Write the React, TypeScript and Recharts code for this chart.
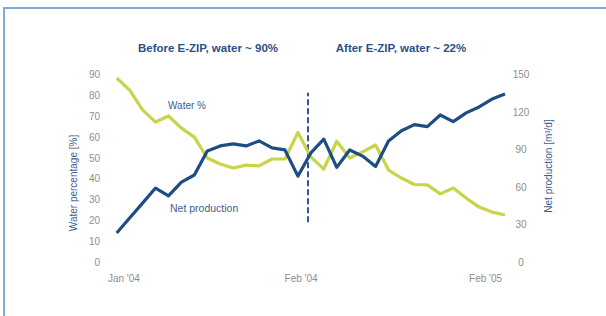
import { LineChart, Line, XAxis, YAxis, ReferenceLine } from 'recharts'

// one point per sample, Jan '04 .. Feb '05
const waterPct = [
  88.1, 82.3, 72.8, 67.0, 69.9, 64.1, 59.8, 49.8, 46.9, 45.0, 46.4, 46.0, 49.3, 49.3, 62.0, 50.3,
  44.5, 57.8, 49.8, 52.7, 56.0, 44.0, 40.2, 37.1, 36.9, 32.6, 35.4, 30.6, 26.3, 23.9, 22.5
]
const netProduction = [
  23.1, 35.1, 47.0, 59.0, 52.7, 63.8, 69.4, 88.6, 92.6, 94.2, 92.6, 96.6, 91.0, 89.4, 68.5, 87.0,
  98.0, 75.5, 89.4, 84.5, 76.2, 96.5, 104.7, 109.6, 108.0, 117.3, 112.0, 119.0, 123.7, 130.0, 134.0
]

const xTicks = [0.56, 14.25, 28.5]
const xLabels = ["Jan '04", "Feb '04", "Feb '05"]
const waterTicks = [0, 10, 20, 30, 40, 50, 60, 70, 80, 90]
const prodTicks = [0, 30, 60, 90, 120, 150]

// E-ZIP start marker (x in sample units, y in water %)
const ezipAt = 14.78
const ezipSpan = [19, 81]

const data = waterPct.map((w, i) => ({ idx: i, water: w, prod: netProduction[i] }))

const FONT = '"Liberation Sans", Arial, sans-serif'
const GREY = '#8e8e8e'
const NAVY = '#2c4f87'

const XTick = (p: any) => {
  const i = xTicks.indexOf(p.payload.value)
  return (
    <text x={p.x} y={282} textAnchor="middle" fontSize={10} fontFamily={FONT} fill={GREY}>
      {xLabels[i]}
    </text>
  )
}

const RightTick = (p: any) => (
  <text x={521} y={p.y + 4} textAnchor="middle" fontSize={10} fontFamily={FONT} fill={GREY}>
    {p.payload.value}
  </text>
)

const LeftTick = (p: any) => (
  <text x={100} y={p.y + 4} textAnchor="end" fontSize={10} fontFamily={FONT} fill={GREY}>
    {p.payload.value}
  </text>
)

const abs = (extra: any) => ({ position: 'absolute' as const, fontFamily: FONT, whiteSpace: 'nowrap' as const, ...extra })

export default function App() {
  return (
    <div style={{ position: 'absolute', left: 0, top: 0, width: 606, height: 316, background: '#fff', overflow: 'hidden' }}>
      <div style={{ position: 'absolute', left: 3, top: 7, right: 0, height: 2, background: '#82aad4' }} />
      <div style={{ position: 'absolute', left: 3, top: 7, bottom: 0, width: 2, background: '#82aad4' }} />

      <LineChart
        width={606}
        height={316}
        data={data}
        margin={{ top: 74, right: 61, bottom: 24, left: 76.7 }}
        style={{ position: 'absolute', left: 0, top: 0 }}
      >
        <XAxis
          type="number"
          dataKey="idx"
          domain={[0, 30]}
          ticks={xTicks}
          interval={0}
          height={30}
          axisLine={false}
          tickLine={false}
          tick={<XTick />}
        />
        <YAxis
          yAxisId="left"
          domain={[0, 90]}
          ticks={waterTicks}
          interval={0}
          width={40}
          axisLine={false}
          tickLine={false}
          tick={<LeftTick />}
        />
        <YAxis
          yAxisId="right"
          orientation="right"
          domain={[0, 150]}
          ticks={prodTicks}
          interval={0}
          width={40}
          axisLine={false}
          tickLine={false}
          tick={<RightTick />}
        />

        <ReferenceLine
          yAxisId="left"
          segment={[{ x: ezipAt, y: ezipSpan[0] }, { x: ezipAt, y: ezipSpan[1] }]}
          stroke="#34588f"
          strokeWidth={2}
          strokeDasharray="6 3"
        />

        <Line
          yAxisId="left"
          dataKey="water"
          type="linear"
          stroke="#c9d448"
          strokeWidth={3.2}
          strokeLinejoin="round"
          dot={false}
          isAnimationActive={false}
        />
        <Line
          yAxisId="right"
          dataKey="prod"
          type="linear"
          stroke="#1e4d86"
          strokeWidth={3.2}
          strokeLinejoin="round"
          dot={false}
          isAnimationActive={false}
        />
      </LineChart>

      <div style={abs({ left: 208, top: 48, transform: 'translate(-50%, -50%)', fontSize: 11.5, fontWeight: 700, color: NAVY })}>
        Before E-ZIP, water ~ 90%
      </div>
      <div style={abs({ left: 401, top: 48, transform: 'translate(-50%, -50%)', fontSize: 11.5, fontWeight: 700, color: NAVY })}>
        After E-ZIP, water ~ 22%
      </div>

      <div style={abs({ left: 168, top: 105, transform: 'translateY(-50%)', fontSize: 10, color: '#3f5c91' })}>
        Water %
      </div>
      <div style={abs({ left: 170, top: 208, transform: 'translateY(-50%)', fontSize: 10.5, color: '#3f5c91' })}>
        Net production
      </div>

      <div style={abs({ left: 73, top: 183, transform: 'translate(-50%, -50%) rotate(-90deg)', fontSize: 10, color: '#3f5c91' })}>
        Water percentage [%]
      </div>
      <div style={abs({ left: 548, top: 166, transform: 'translate(-50%, -50%) rotate(-90deg)', fontSize: 10, color: '#3f5c91' })}>
        Net production [m³/d]
      </div>
    </div>
  )
}
